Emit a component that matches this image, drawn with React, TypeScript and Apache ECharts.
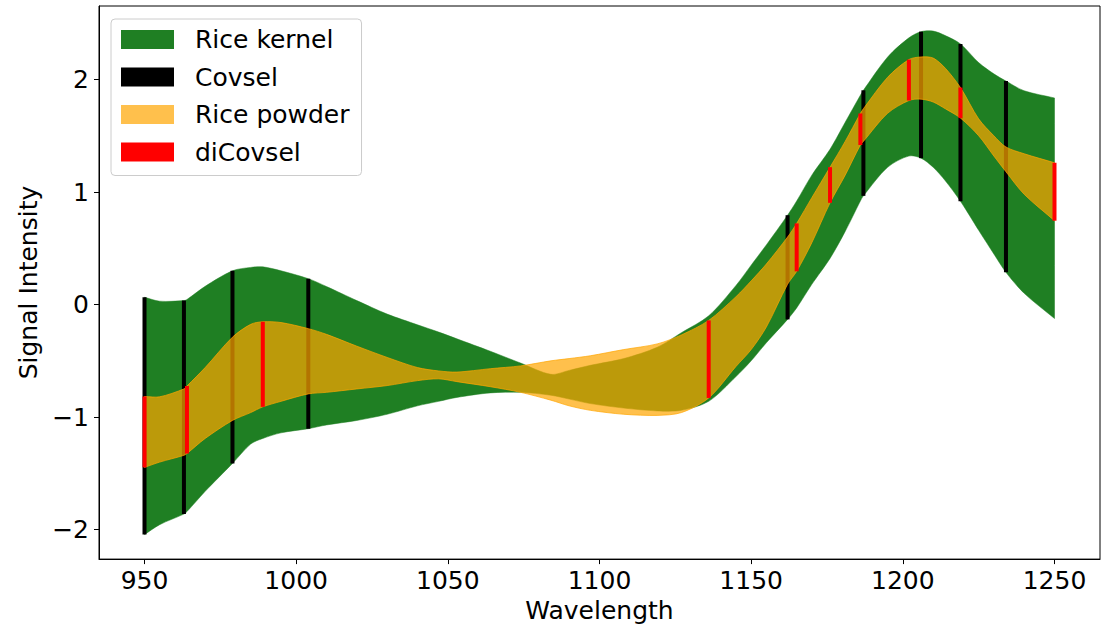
import React, { useEffect, useRef } from "react";
import * as echarts from "echarts";

// Sample wavelengths shared by both bands
const wavelengths = [
  950, 955, 963, 964, 970, 979, 985, 989, 995, 1004, 1010, 1020, 1030, 1040, 1047,
  1053, 1064, 1074, 1084, 1090, 1097, 1108, 1119, 1127, 1136, 1145, 1150, 1155,
  1162, 1165, 1170, 1176, 1181, 1186, 1187, 1195, 1202, 1206, 1210, 1214, 1219,
  1225, 1230, 1234, 1240, 1250,
];
// Rice kernel band (upper / lower edges)
const kernelUpper = [
  0.065, 0.03, 0.035, 0.045, 0.162, 0.3, 0.33, 0.335, 0.3, 0.23, 0.16, 0.035, -0.085, -0.18, -0.245,
  -0.305, -0.415, -0.52, -0.62, -0.585, -0.54, -0.48, -0.38, -0.25, -0.1, 0.17, 0.35, 0.53,
  0.794, 0.92, 1.15, 1.38, 1.62, 1.86, 1.904, 2.2, 2.37, 2.425, 2.43, 2.39, 2.316,
  2.15, 2.05, 1.986, 1.9, 1.836,
];
const kernelLower = [
  -2.044, -1.956, -1.862, -1.84, -1.66, -1.412, -1.24, -1.19, -1.14, -1.103, -1.07, -1.03, -0.975, -0.9, -0.86,
  -0.825, -0.785, -0.78, -0.806, -0.84, -0.88, -0.92, -0.945, -0.94, -0.86, -0.64, -0.5, -0.34,
  -0.132, -0.03, 0.18, 0.41, 0.65, 0.92, 0.966, 1.22, 1.32, 1.301, 1.22, 1.1, 0.918,
  0.66, 0.45, 0.286, 0.1, -0.124,
];
// Rice powder band (upper / lower edges)
const powderUpper = [
  -0.817, -0.82, -0.75, -0.724, -0.56, -0.29, -0.176, -0.153, -0.16, -0.214, -0.265, -0.37, -0.47, -0.56, -0.59,
  -0.6, -0.57, -0.545, -0.5, -0.48, -0.455, -0.4, -0.35, -0.27, -0.141, 0.07, 0.21, 0.36,
  0.6, 0.721, 0.95, 1.221, 1.45, 1.698, 1.74, 2.02, 2.177, 2.2, 2.19, 2.1, 1.928,
  1.65, 1.5, 1.4, 1.34, 1.26,
];
const powderLower = [
  -1.447, -1.4, -1.34, -1.324, -1.19, -1.03, -0.96, -0.909, -0.86, -0.794, -0.78, -0.75, -0.72, -0.676, -0.66,
  -0.685, -0.73, -0.78, -0.85, -0.9, -0.94, -0.975, -0.985, -0.96, -0.83, -0.55, -0.4, -0.2,
  0.18, 0.295, 0.55, 0.904, 1.15, 1.418, 1.45, 1.7, 1.813, 1.825, 1.8, 1.74, 1.657,
  1.5, 1.32, 1.18, 0.98, 0.745,
];
// Selected wavelengths
const covselWavelengths = [950, 963, 979, 1004, 1162, 1187, 1206, 1219, 1234];
const dicovselWavelengths = [950, 964, 989, 1136, 1165, 1176, 1186, 1202, 1219, 1250];
// Ticks
const xTicks = [950, 1000, 1050, 1100, 1150, 1200, 1250];
const yTicks = [-2, -1, 0, 1, 2];

const GREEN = "#1f7f23";
const ORANGE = "rgba(255,165,0,0.7)";
const FONT = "DejaVu Sans";

function bandData(lower: number[], upper: number[]) {
  return wavelengths.map((w, i) => [w, lower[i], upper[i]]);
}

function bandLines(ws: number[], lower: number[], upper: number[]) {
  return ws.map((w) => {
    const i = wavelengths.indexOf(w);
    return [w, lower[i], upper[i]];
  });
}

function bandRender(fill: string, stroke: string | null) {
  return (params: any, api: any) => {
    if (params.dataIndexInside !== 0) return null;
    const n = params.dataInsideLength;
    const top: number[][] = [];
    const bot: number[][] = [];
    for (let i = 0; i < n; i++) {
      const x = api.value(0, i);
      bot.push(api.coord([x, api.value(1, i)]));
      top.push(api.coord([x, api.value(2, i)]));
    }
    const pts: number[][] = [];
    const t0 = top[0], tL = top[n - 1], b0 = bot[0], bL = bot[n - 1];
    pts.push(t0, t0, t0);
    for (let i = 1; i < n - 1; i++) pts.push(top[i]);
    pts.push(tL, tL, tL, bL, bL, bL);
    for (let i = n - 2; i >= 1; i--) pts.push(bot[i]);
    pts.push(b0, b0, b0);
    return {
      type: "polygon",
      shape: { points: pts, smooth: 0.3 },
      style: stroke
        ? { fill, stroke, lineWidth: 1 }
        : { fill, stroke: fill, lineWidth: 0.5 },
    };
  };
}

function vlineRender(color: string) {
  return (params: any, api: any) => {
    const x = api.value(0);
    const p1 = api.coord([x, api.value(1)]);
    const p2 = api.coord([x, api.value(2)]);
    return {
      type: "line",
      shape: { x1: p1[0], y1: p1[1], x2: p2[0], y2: p2[1] },
      style: { stroke: color, lineWidth: 4, lineCap: "butt" },
    };
  };
}

export default function App() {
  const ref = useRef<HTMLDivElement>(null);
  useEffect(() => {
    if (!ref.current) return;
    const chart = echarts.init(ref.current, undefined, { renderer: "svg" });
    const minus = (v: number) => (v < 0 ? "\u2212" + Math.abs(v) : String(v));
    chart.setOption({
      animation: false,
      backgroundColor: "#fff",
      textStyle: { fontFamily: FONT },
      grid: {
        left: 99,
        right: 12,
        top: 6,
        bottom: 65,
        show: true,
        borderColor: "#000",
        borderWidth: 1,
      },
      legend: {
        left: 111,
        top: 19,
        orient: "vertical",
        icon: "rect",
        itemWidth: 53,
        itemHeight: 19,
        itemGap: 12.5,
        padding: [8, 12, 11, 10],
        backgroundColor: "rgba(255,255,255,0.8)",
        borderColor: "#cccccc",
        borderWidth: 1,
        borderRadius: 4,
        selectedMode: false,
        textStyle: { fontSize: 25, color: "#000", fontFamily: FONT, padding: [0, 0, 0, 16] },
        data: [
          { name: "Rice kernel", itemStyle: { color: GREEN } },
          { name: "Covsel", itemStyle: { color: "#000" } },
          { name: "Rice powder", itemStyle: { color: ORANGE } },
          { name: "diCovsel", itemStyle: { color: "#ff0000" } },
        ],
      },
      xAxis: {
        type: "value",
        min: 935,
        max: 1265,
        name: "Wavelength",
        nameLocation: "middle",
        nameGap: 36,
        nameTextStyle: { fontSize: 25, color: "#000", fontFamily: FONT },
        axisLine: { show: true, onZero: false, lineStyle: { color: "#000", width: 1 } },
        axisTick: { show: true, length: 5, customValues: xTicks, lineStyle: { color: "#000" } },
        axisLabel: {
          fontSize: 25,
          color: "#000",
          fontFamily: FONT,
          margin: 9,
          customValues: xTicks,
          formatter: (v: number) => String(v),
        },
        splitLine: { show: false },
      },
      yAxis: {
        type: "value",
        min: -2.262,
        max: 2.653,
        name: "Signal Intensity",
        nameLocation: "middle",
        nameGap: 54,
        nameTextStyle: { fontSize: 25, color: "#000", fontFamily: FONT },
        axisLine: { show: true, onZero: false, lineStyle: { color: "#000", width: 1 } },
        axisTick: { show: true, length: 5, customValues: yTicks, lineStyle: { color: "#000" } },
        axisLabel: {
          fontSize: 25,
          color: "#000",
          fontFamily: FONT,
          margin: 10,
          customValues: yTicks,
          formatter: minus,
        },
        splitLine: { show: false },
      },
      series: [
        {
          name: "Rice kernel",
          type: "custom",
          data: bandData(kernelLower, kernelUpper),
          encode: { x: 0, y: [1, 2] },
          renderItem: bandRender(GREEN, null),
          itemStyle: { color: GREEN },
          silent: true,
          clip: true,
          z: 1,
        },
        {
          name: "Covsel",
          type: "custom",
          data: bandLines(covselWavelengths, kernelLower, kernelUpper),
          encode: { x: 0, y: [1, 2] },
          renderItem: vlineRender("#000000"),
          itemStyle: { color: "#000" },
          silent: true,
          z: 2,
        },
        {
          name: "Rice powder",
          type: "custom",
          data: bandData(powderLower, powderUpper),
          encode: { x: 0, y: [1, 2] },
          renderItem: bandRender(ORANGE, ORANGE),
          itemStyle: { color: ORANGE },
          silent: true,
          clip: true,
          z: 3,
        },
        {
          name: "diCovsel",
          type: "custom",
          data: bandLines(dicovselWavelengths, powderLower, powderUpper),
          encode: { x: 0, y: [1, 2] },
          renderItem: vlineRender("#ff0000"),
          itemStyle: { color: "#ff0000" },
          silent: true,
          z: 4,
        },
      ],
    });
    return () => chart.dispose();
  }, []);
  return (
    <div
      ref={ref}
      style={{ position: "fixed", left: 0, top: 0, width: 1112, height: 628, background: "#fff" }}
    />
  );
}
